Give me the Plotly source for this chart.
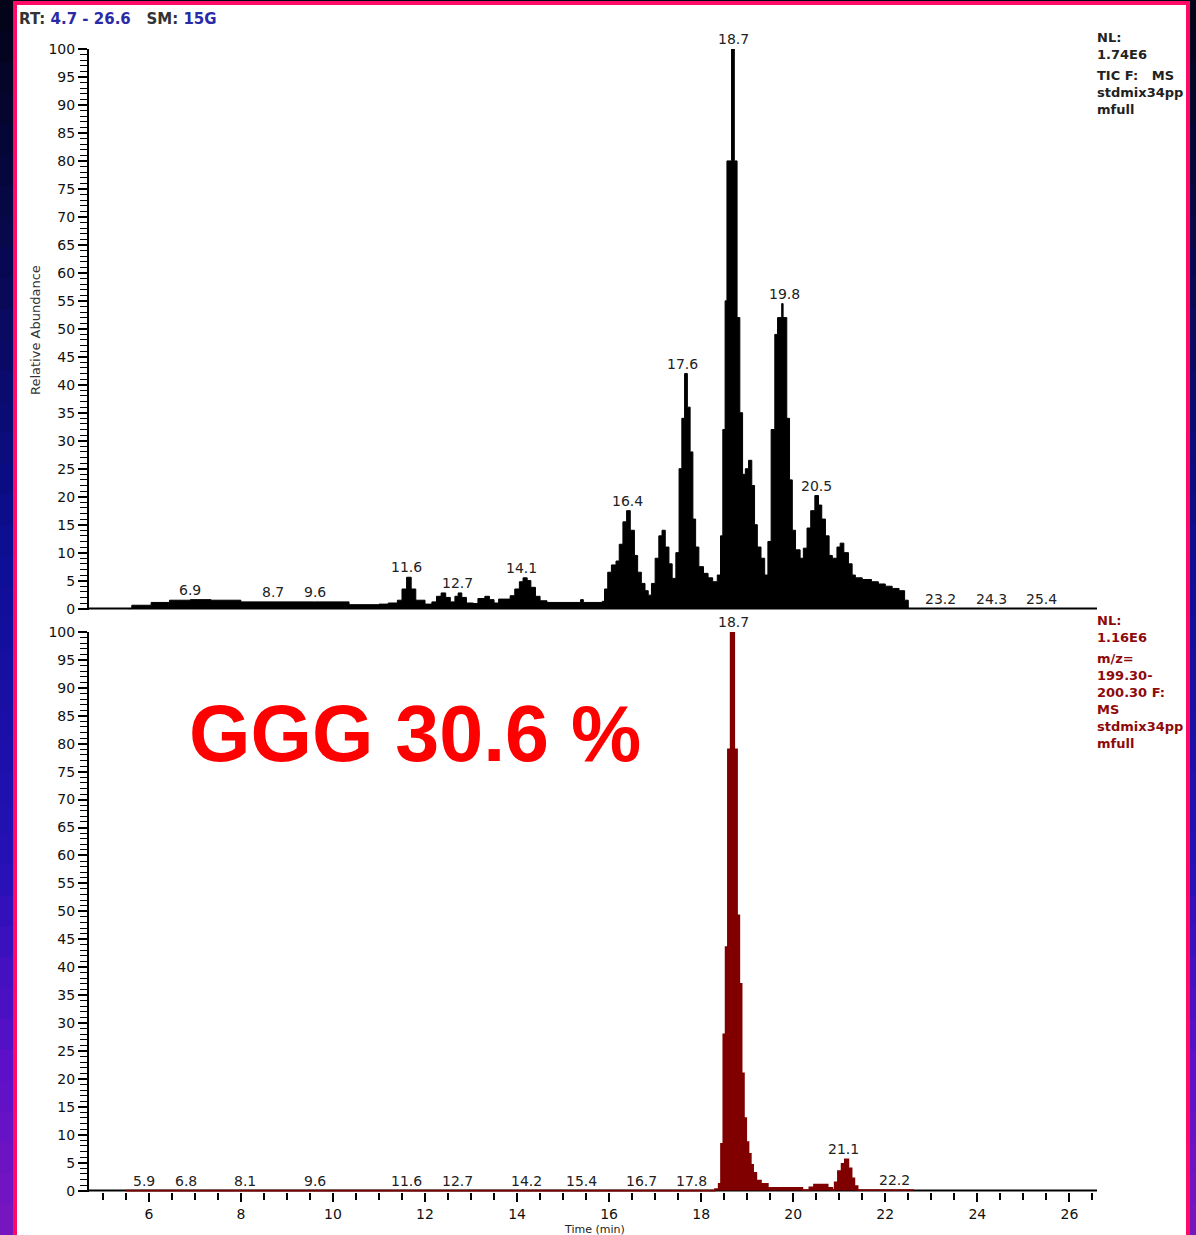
import numpy as np
import plotly.graph_objects as go

# ---------------- data ----------------
tic_time = [5.55, 5.63, 6.05, 6.45, 6.9, 7.35, 8.0, 8.7, 9.6, 10.35, 11.0, 11.2, 11.4, 11.5,
            11.6, 11.7, 11.8, 12.0, 12.15, 12.25, 12.35, 12.45, 12.55, 12.65, 12.72, 12.8,
            12.9, 13.05, 13.15, 13.3, 13.4, 13.5, 13.6, 13.75, 13.85, 13.95, 14.05, 14.13,
            14.22, 14.3, 14.4, 14.5, 14.65, 15.38, 15.44, 15.85, 15.9, 15.97, 16.05, 16.15,
            16.22, 16.3, 16.38, 16.46, 16.55, 16.62, 16.7, 16.78, 16.85, 16.92, 17.0, 17.08,
            17.15, 17.22, 17.3, 17.37, 17.45, 17.52, 17.58, 17.64, 17.7, 17.76, 17.82, 17.88,
            17.95, 18.05, 18.15, 18.25, 18.35, 18.42, 18.47, 18.52, 18.56, 18.66, 18.72, 18.78,
            18.84, 18.9, 18.96, 19.03, 19.1, 19.16, 19.22, 19.3, 19.38, 19.45, 19.52, 19.6,
            19.66, 19.75, 19.78, 19.86, 19.92, 19.98, 20.05, 20.15, 20.22, 20.3, 20.38, 20.47,
            20.55, 20.62, 20.7, 20.78, 20.85, 20.95, 21.02, 21.1, 21.2, 21.28, 21.35, 21.5,
            21.7, 21.85, 22.0, 22.15, 22.3, 22.42, 22.5]
tic_abund = [0.0, 0.6, 1.1, 1.5, 1.6, 1.5, 1.2, 1.2, 1.2, 0.7, 0.8, 1.0, 1.5, 3.5,
             5.6, 3.5, 1.5, 0.8, 1.2, 2.2, 2.8, 2.0, 1.2, 2.2, 2.8, 2.0,
             1.0, 0.9, 1.8, 2.2, 1.6, 1.0, 1.7, 1.7, 2.3, 3.5, 4.8, 5.5,
             5.0, 3.8, 2.2, 1.4, 1.1, 1.6, 1.1, 1.3, 3.5, 6.5, 7.8, 8.5,
             11.5, 15.5, 17.5, 14.0, 9.5, 6.5, 4.5, 3.2, 2.4, 4.5, 9.0, 13.0,
             14.0, 11.0, 8.0, 5.4, 10.0, 25.0, 34.0, 42.0, 36.0, 28.0, 16.0, 11.0,
             7.5, 6.3, 5.5, 4.8, 6.0, 13.0, 32.0, 55.0, 80.0, 100.0, 80.0, 52.0,
             35.0, 24.0, 25.0, 26.5, 22.0, 15.0, 11.0, 9.0, 6.0, 12.0, 32.0, 49.0,
             52.0, 54.5, 52.0, 34.0, 23.0, 14.0, 10.5, 9.0, 10.8, 14.4, 17.5, 20.2,
             18.5, 16.0, 13.0, 9.5, 9.0, 11.0, 11.7, 10.0, 8.0, 6.0, 5.5, 5.2,
             4.8, 4.4, 4.0, 3.6, 3.2, 1.5, 0.0]

ion_time = [5.5, 18.3, 18.38, 18.43, 18.48, 18.53, 18.58, 18.64, 18.72, 18.78, 18.83, 18.88,
            18.93, 18.98, 19.03, 19.08, 19.13, 19.2, 19.3, 19.45, 20.2, 20.35, 20.45, 20.75,
            20.85, 20.9, 20.97, 21.05, 21.12, 21.2, 21.27, 21.33, 21.4, 22.6]
ion_abund = [0.0, 0.3, 1.2, 8.4, 28.0, 43.6, 79.0, 100.0, 79.0, 49.3, 37.0, 21.0,
             13.0, 8.7, 6.6, 4.6, 3.2, 1.8, 1.2, 0.5, 0.1, 0.6, 1.1, 0.5,
             0.2, 1.5, 3.5, 4.8, 5.6, 4.0, 2.2, 0.8, 0.1, 0.0]

tic_labels = [6.9, 8.7, 9.6, 11.6, 12.7, 14.1, 16.4, 17.6, 18.7, 19.8, 20.5, 23.2, 24.3, 25.4]
ion_labels = [5.9, 6.8, 8.1, 9.6, 11.6, 12.7, 14.2, 15.4, 16.7, 17.8, 18.7, 21.1, 22.2]

x_ticks = [6, 8, 10, 12, 14, 16, 18, 20, 22, 24, 26]
y_ticks = [0, 5, 10, 15, 20, 25, 30, 35, 40, 45, 50, 55, 60, 65, 70, 75, 80, 85, 90, 95, 100]
x_range = [4.7, 26.6]

# ---------------- geometry ----------------
W, H = 1196, 1235
L, R, T, B = 89, 1097, 49, 1192
GAP_TOP, GAP_BOT = 610, 632


def fx(px):
    return (px - L) / (R - L)


def fy(py):
    return (B - py) / (B - T)


FONT = "DejaVu Sans, Arial, sans-serif"

fig = go.Figure()
fig.add_trace(go.Scatter(x=tic_time, y=tic_abund, mode="lines",
                         line=dict(color="black", width=1, shape="hv"),
                         fill="tozeroy", fillcolor="black",
                         xaxis="x", yaxis="y", hoverinfo="skip", showlegend=False))
fig.add_trace(go.Scatter(x=ion_time, y=ion_abund, mode="lines",
                         line=dict(color="#800000", width=1.6, shape="hv"),
                         fill="tozeroy", fillcolor="#800000",
                         xaxis="x2", yaxis="y2", hoverinfo="skip", showlegend=False))


def label_height(t, times, vals, win=0.09):
    ts = np.asarray(times)
    vs = np.asarray(vals)
    idx = np.searchsorted(ts, t, side="right") - 1
    base = vs[idx] if 0 <= idx < len(vs) else 0.0
    mask = (ts >= t - win) & (ts <= t + win)
    return float(max([base] + list(vs[mask])))


annotations = []
for t in tic_labels:
    annotations.append(dict(x=t, y=label_height(t, tic_time, tic_abund), xref="x", yref="y",
                            text=f"{t:.1f}", showarrow=False, xanchor="center",
                            yanchor="bottom", yshift=0,
                            font=dict(family=FONT, size=14, color="#222")))
for t in ion_labels:
    annotations.append(dict(x=t, y=label_height(t, ion_time, ion_abund), xref="x2", yref="y2",
                            text=f"{t:.1f}", showarrow=False, xanchor="center",
                            yanchor="bottom", yshift=0,
                            font=dict(family=FONT, size=14, color="#222")))

blue = "#2a2aa8"
nb = "\u00a0"
annotations += [
    dict(x=fx(17), y=fy(19), xref="paper", yref="paper", xanchor="left", yanchor="middle",
         showarrow=False, align="left",
         text=f"<b>RT:{nb}<span style='color:{blue}'>4.7{nb}-{nb}26.6</span>{nb}{nb}{nb}SM:{nb}<span style='color:{blue}'>15G</span></b>",
         font=dict(family=FONT, size=15, color="#333")),
    dict(x=fx(36), y=fy(330), xref="paper", yref="paper", xanchor="center", yanchor="middle",
         textangle=-90, showarrow=False,
         text="Relative Abundance", font=dict(family=FONT, size=13, color="#333")),
    dict(x=fx(594), y=fy(1229), xref="paper", yref="paper", xanchor="center", yanchor="middle",
         showarrow=False, text="Time (min)", font=dict(family=FONT, size=11, color="#222")),
    dict(x=fx(1095), y=fy(28), xref="paper", yref="paper", xanchor="left", yanchor="top",
         showarrow=False, align="left", text="<b>NL:<br>1.74E6</b>",
         font=dict(family=FONT, size=13, color="#222")),
    dict(x=fx(1095), y=fy(66), xref="paper", yref="paper", xanchor="left", yanchor="top",
         showarrow=False, align="left",
         text=f"<b>TIC{nb}F:{nb}{nb}{nb}MS<br>stdmix34pp<br>mfull</b>",
         font=dict(family=FONT, size=13, color="#222")),
    dict(x=fx(1095), y=fy(611), xref="paper", yref="paper", xanchor="left", yanchor="top",
         showarrow=False, align="left", text="<b>NL:<br>1.16E6</b>",
         font=dict(family=FONT, size=13, color="#8e0a0a")),
    dict(x=fx(1095), y=fy(649), xref="paper", yref="paper", xanchor="left", yanchor="top",
         showarrow=False, align="left",
         text=f"<b>m/z=<br>199.30-<br>200.30{nb}F:<br>MS<br>stdmix34pp<br>mfull</b>",
         font=dict(family=FONT, size=13, color="#8e0a0a")),
    dict(x=fx(415), y=fy(733), xref="paper", yref="paper", xanchor="center", yanchor="middle",
         showarrow=False, text="<b>GGG 30.6 %</b>",
         font=dict(family="Liberation Sans, Arial, sans-serif", size=79, color="#ff0000")),
]

# ---------------- frame / background shapes ----------------
shapes = []
stops = [(0.0, (3, 3, 22)), (0.2, (8, 8, 78)), (0.45, (14, 14, 148)),
         (0.7, (38, 16, 182)), (0.86, (92, 16, 200)), (1.0, (122, 22, 190))]


def grad(f):
    for (a, ca), (b, cb) in zip(stops[:-1], stops[1:]):
        if a <= f <= b:
            k = (f - a) / (b - a)
            c = [int(round(ca[i] + (cb[i] - ca[i]) * k)) for i in range(3)]
            return "rgb(%d,%d,%d)" % tuple(c)
    return "rgb(%d,%d,%d)" % stops[-1][1]


NB = 40
for i in range(NB):
    y0p, y1p = H * i / NB, H * (i + 1) / NB + 1
    col = grad((i + 0.5) / NB)
    for xa, xb in [(0, 13), (1190, W)]:
        shapes.append(dict(type="rect", xref="paper", yref="paper", x0=fx(xa), x1=fx(xb),
                           y0=fy(y1p), y1=fy(y0p), fillcolor=col, line=dict(width=0),
                           layer="above"))
pink = "#ff0a64"
for xa, xb, ya, yb in [(13, 17, 0, H), (1186, 1190, 0, H), (13, 1190, 1, 5)]:
    shapes.append(dict(type="rect", xref="paper", yref="paper", x0=fx(xa), x1=fx(xb),
                       y0=fy(yb), y1=fy(ya), fillcolor=pink, line=dict(width=0), layer="above"))
shapes.append(dict(type="rect", xref="paper", yref="paper", x0=fx(0), x1=fx(W),
                   y0=fy(1), y1=fy(0), fillcolor="#050518", line=dict(width=0), layer="above"))
# axis baselines (drawn beneath traces so the traces cover them)
for xr, yr in [("x domain", "y"), ("x2 domain", "y2")]:
    shapes.append(dict(type="line", xref=xr, yref=yr, x0=0, x1=1, y0=0, y1=0,
                       line=dict(color="black", width=2), layer="below"))

yax_common = dict(range=[-0.25, 100], tickmode="array", tickvals=y_ticks,
                  ticks="outside", ticklen=9, tickwidth=1.5, tickcolor="black",
                  minor=dict(tickmode="linear", tick0=0, dtick=1, ticks="outside",
                             ticklen=7, tickwidth=1.2, tickcolor="black"),
                  showline=True, linecolor="black", linewidth=2, showgrid=False,
                  zeroline=False, tickfont=dict(family=FONT, size=14, color="#111"),
                  fixedrange=True)

fig.update_layout(
    width=W, height=H,
    margin=dict(l=L, r=W - R, t=T, b=H - B, pad=0),
    paper_bgcolor="white", plot_bgcolor="white",
    showlegend=False,
    xaxis=dict(domain=[0, 1], range=x_range, anchor="y", matches="x2",
               showticklabels=False, ticks="", showline=False, showgrid=False,
               zeroline=False),
    xaxis2=dict(domain=[0, 1], range=x_range, anchor="y2", tickmode="array",
                tickvals=x_ticks, ticks="outside", ticklen=9, tickwidth=2,
                tickcolor="black", ticklabelstandoff=0,
                minor=dict(tickmode="linear", tick0=0, dtick=0.5, ticks="outside",
                           ticklen=7, tickwidth=2, tickcolor="black"),
                showline=False, showgrid=False, zeroline=False,
                tickfont=dict(family=FONT, size=14, color="#111")),
    yaxis=dict(domain=[fy(GAP_TOP), 1], anchor="x", **yax_common),
    yaxis2=dict(domain=[0, fy(GAP_BOT)], anchor="x2", **yax_common),
    annotations=annotations,
    shapes=shapes,
)

fig.write_html("out.html", config={"displayModeBar": False},
               post_script="document.body.style.margin='0px';document.body.style.overflow='hidden';")
